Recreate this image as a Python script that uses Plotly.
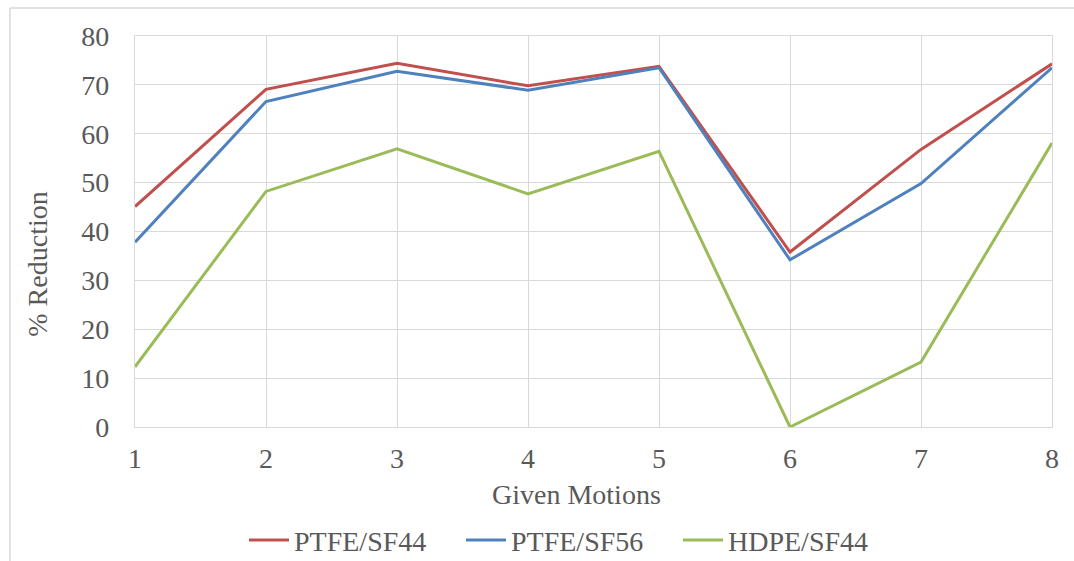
import plotly.graph_objects as go

motions = [1, 2, 3, 4, 5, 6, 7, 8]
ptfe_sf44 = [45.1, 69.1, 74.4, 69.8, 73.8, 35.8, 56.8, 74.3]
ptfe_sf56 = [37.8, 66.6, 72.8, 68.9, 73.5, 34.2, 49.8, 73.5]
hdpe_sf44 = [12.3, 48.2, 56.9, 47.7, 56.4, 0.0, 13.3, 58.1]
series_names = ["PTFE/SF44", "PTFE/SF56", "HDPE/SF44"]
colors = ["#C0504D", "#4F81BD", "#9BBB59"]
y_ticks = [0, 10, 20, 30, 40, 50, 60, 70, 80]

FONT = "Liberation Serif, Times New Roman, serif"
TXT = "#595959"
GRID = "#D9D9D9"
FS = 28

W, H = 1074, 561
L, R, T, B = 135, 1052, 36, 427.5

fig = go.Figure()
for name, vals, c in zip(series_names, [ptfe_sf44, ptfe_sf56, hdpe_sf44], colors):
    fig.add_trace(go.Scatter(x=motions, y=vals, mode="lines", name=name,
                             line=dict(color=c, width=3)))

pw, ph = R - L, B - T
def px(x):
    return (x - L) / pw
def py(y):
    return (B - y) / ph

fig.update_layout(
    width=W, height=H,
    margin=dict(l=L, r=W - R, t=T, b=H - B, autoexpand=False),
    paper_bgcolor="white", plot_bgcolor="white",
    font=dict(family=FONT, size=FS, color=TXT),
    showlegend=True,
    legend=dict(orientation="h", x=px(244), xanchor="left", y=py(541), yanchor="middle",
                font=dict(family=FONT, size=FS, color=TXT), itemwidth=40,
                tracegroupgap=0, entrywidth=162),
    xaxis=dict(range=[1, 8], tickvals=motions, ticks="", showgrid=True, gridcolor=GRID,
               gridwidth=1.3, showline=True, linecolor=GRID, linewidth=1.3, mirror=True,
               zeroline=False, ticklabelstandoff=6, tickfont=dict(size=FS, color=TXT)),
    yaxis=dict(range=[0, 80], tickvals=y_ticks, ticks="", showgrid=True, gridcolor=GRID,
               gridwidth=1.3, showline=True, linecolor=GRID, linewidth=1.3, mirror=True,
               zeroline=False, ticklabelstandoff=19, tickfont=dict(size=FS, color=TXT)),
    annotations=[
        dict(text="Given Motions", xref="paper", yref="paper", x=px(576), y=py(495),
             xanchor="center", yanchor="middle", showarrow=False,
             font=dict(family=FONT, size=FS, color=TXT)),
        dict(text="% Reduction", xref="paper", yref="paper", x=px(38), y=py(265),
             xanchor="center", yanchor="middle", showarrow=False, textangle=-90,
             font=dict(family=FONT, size=FS, color=TXT)),
    ],
    shapes=[
        dict(type="line", xref="paper", yref="paper", x0=px(10), x1=px(1080), y0=py(8), y1=py(8),
             line=dict(color=GRID, width=1.5)),
        dict(type="line", xref="paper", yref="paper", x0=px(10), x1=px(10), y0=py(8), y1=py(570),
             line=dict(color=GRID, width=1.5)),
    ],
)

fig.write_html("out.html")
